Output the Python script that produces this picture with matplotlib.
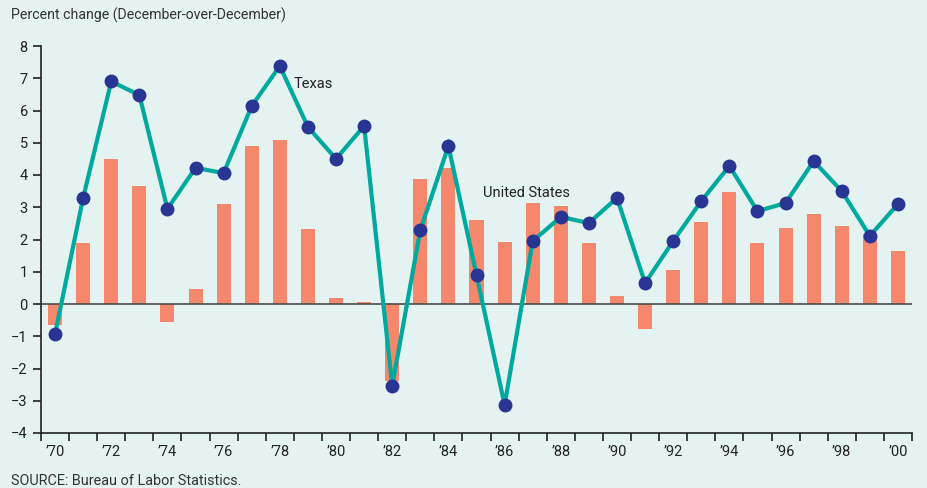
import matplotlib
matplotlib.use("Agg")
import matplotlib.pyplot as plt
import numpy as np

years = list(range(1970, 2001))
texas = [-0.93, 3.29, 6.9, 6.48, 2.95, 4.22, 4.06, 6.14, 7.38, 5.49, 4.5, 5.52,
         -2.54, 2.29, 4.9, 0.9, -3.13, 1.95, 2.7, 2.51, 3.29, 0.65, 1.95, 3.19,
         4.28, 2.88, 3.13, 4.43, 3.5, 2.11, 3.1]
us = [-0.65, 1.89, 4.5, 3.66, -0.56, 0.47, 3.1, 4.9, 5.09, 2.33, 0.19, 0.06,
      -2.39, 3.88, 4.22, 2.6, 1.92, 3.13, 3.04, 1.89, 0.25, -0.78, 1.05, 2.54,
      3.47, 1.89, 2.36, 2.79, 2.42, 2.17, 1.64]
year_labels = ["\u2019%02d" % (y % 100) if y % 2 == 0 else "" for y in years]
y_ticks = list(range(-4, 9))

plt.rcParams['font.family'] = ['Roboto', 'DejaVu Sans']
bg = '#E4F2F1'
fig = plt.figure(figsize=(9.28, 4.88), dpi=100, facecolor=bg)
ax = fig.add_axes([41/928, 55/488, 871/928, 387/488], facecolor=bg)

x = np.arange(len(years))
ax.bar(x, us, width=0.5, color='#F4876C', zorder=2)
ax.axhline(0, color='#4a4a4a', lw=1.2, zorder=3)
ax.plot(x, texas, color='#00A99D', lw=3, zorder=4, solid_joinstyle='miter')
ax.plot(x, texas, 'o', color='#283593', ms=9, zorder=5)

ax.set_xlim(-0.5, len(years) - 0.5)
ax.set_ylim(-4, 8)
ax.set_yticks(y_ticks)
ax.set_yticklabels([("\u2212%d" % -v) if v < 0 else str(v) for v in y_ticks])
ax.set_xticks(x)
ax.set_xticklabels(year_labels)
ax.set_xticks(np.arange(-0.5, len(years)), minor=True)
ax.tick_params(axis='x', which='major', length=0, pad=9, labelsize=10.5, colors='#222222')
ax.tick_params(axis='x', which='minor', length=6, width=1.2, direction='out', color='#222222')
ax.tick_params(axis='y', length=6, width=1.2, direction='out', labelsize=10.5, colors='#222222')
for s in ['top', 'right']:
    ax.spines[s].set_visible(False)
for s in ['left', 'bottom']:
    ax.spines[s].set_color('#222222')
    ax.spines[s].set_linewidth(1.2)

ax.text(8.5, 6.82, 'Texas', fontsize=10.5, color='#222222', va='center', ha='left')
ax.text(15.23, 3.45, 'United States', fontsize=10.5, color='#222222', va='center', ha='left')

fig.text(11/928, 1 - 15/488, 'Percent change (December-over-December)', fontsize=10.2,
         color='#333333', va='center', ha='left')
fig.text(11/928, 1 - 481/488, 'SOURCE: Bureau of Labor Statistics.', fontsize=10.4,
         color='#333333', va='center', ha='left')

fig.savefig('out.png', dpi=100, facecolor=bg)
